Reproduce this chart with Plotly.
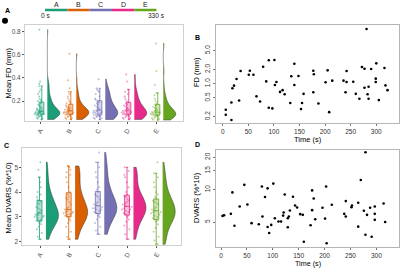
import plotly.graph_objects as go

W, H = 400, 268
def px(x): return x / W
def py(y): return 1 - y / H

groups = ["A", "B", "C", "D", "E"]
colors = ["#1B9E77", "#D95F02", "#7570B3", "#E7298A", "#66A61E"]
segment_secs = [66, 66, 66, 66, 66]

# Panel A: mean FD (mm) per time window
fd_A = [0.04,0.045,0.05,0.055,0.06,0.065,0.07,0.07,0.075,0.075,0.08,0.08,0.085,0.085,0.09,0.09,0.09,0.095,0.095,0.1,0.1,0.1,0.105,0.105,0.11,0.11,0.115,0.12,0.12,0.125,0.13,0.135,0.14,0.15,0.16,0.17,0.18,0.19,0.2,0.2,0.21,0.22,0.24,0.26,0.28,0.3,0.33,0.35,0.37,0.82]
fd_B = [0.04,0.045,0.05,0.055,0.06,0.065,0.07,0.075,0.08,0.08,0.085,0.09,0.09,0.095,0.1,0.1,0.1,0.105,0.11,0.11,0.115,0.12,0.12,0.125,0.13,0.135,0.14,0.145,0.15,0.16,0.17,0.18,0.19,0.2,0.22,0.24,0.26,0.28,0.31,0.38,0.61]
fd_C = [0.04,0.045,0.05,0.055,0.06,0.065,0.07,0.07,0.075,0.08,0.085,0.09,0.095,0.1,0.1,0.105,0.11,0.115,0.12,0.125,0.13,0.14,0.15,0.16,0.17,0.18,0.19,0.2,0.21,0.22,0.24,0.26,0.28,0.29,0.3,0.31,0.39]
fd_D = [0.04,0.045,0.05,0.055,0.06,0.065,0.07,0.075,0.08,0.085,0.09,0.09,0.095,0.1,0.1,0.105,0.11,0.115,0.12,0.125,0.13,0.14,0.15,0.16,0.17,0.18,0.19,0.2,0.22,0.24,0.26,0.28,0.3,0.37,0.43]
fd_E = [0.035,0.04,0.045,0.05,0.055,0.06,0.065,0.07,0.075,0.08,0.08,0.085,0.09,0.09,0.095,0.1,0.1,0.105,0.11,0.115,0.12,0.13,0.14,0.15,0.16,0.17,0.18,0.2,0.22,0.25,0.27,0.34,0.46,0.7]

# Panel C: mean DVARS (%*10) per time window
dv_A = [2.1,2.2,2.35,2.5,2.6,2.7,2.75,2.8,2.82,2.85,2.9,2.95,3.0,3.0,3.05,3.05,3.08,3.1,3.15,3.2,3.25,3.3,3.35,3.4,3.5,3.55,3.6,3.65,3.7,3.8,3.9,4.0,4.2,4.4,4.6,4.9,5.2]
dv_B = [2.1,2.2,2.4,2.6,2.75,2.85,2.9,2.95,3.0,3.05,3.1,3.1,3.15,3.15,3.2,3.2,3.25,3.3,3.35,3.4,3.5,3.6,3.7,3.75,3.8,3.9,4.0,4.2,4.4,4.6,4.7,4.8,4.9,5.0,5.05]
dv_C = [2.3,2.45,2.6,2.75,2.9,3.0,3.05,3.1,3.15,3.2,3.25,3.3,3.3,3.35,3.35,3.4,3.45,3.5,3.55,3.6,3.7,3.8,3.85,3.9,4.0,4.1,4.2,4.4,4.6,4.8,5.0,5.2,5.6]
dv_D = [2.1,2.3,2.5,2.65,2.8,2.9,3.0,3.05,3.1,3.15,3.2,3.25,3.3,3.3,3.35,3.4,3.45,3.5,3.55,3.6,3.65,3.7,3.8,3.85,3.9,4.0,4.2,4.4,4.6,4.7,4.85,5.0]
dv_E = [1.9,2.05,2.2,2.4,2.55,2.7,2.8,2.85,2.9,2.95,3.0,3.05,3.1,3.15,3.2,3.2,3.25,3.3,3.35,3.4,3.5,3.55,3.6,3.65,3.7,3.8,3.9,4.0,4.2,4.4,4.6,4.76,5.2]

# Panel B: FD over time
time_fd = [6,6,17,17,19,22,27,32,35,51,53,60,66,73,79,85,90,90,97,101,102,105,112,117,121,132,134,140,140,148,153,155,158,177,177,178,187,201,205,208,214,236,240,242,242,255,260,267,272,277,277,281,283,285,285,290,299,299,300,305,316,318,322]
fd_t = [0.28,0.22,0.17,0.40,0.80,0.91,1.26,0.44,1.86,1.55,1.88,1.55,0.54,0.42,2.29,1.12,3.13,0.31,0.30,3.17,0.94,1.09,0.67,0.73,0.60,0.39,1.44,2.65,0.94,1.46,0.29,0.39,0.61,0.66,1.88,1.58,0.38,1.07,1.92,0.25,1.16,1.16,0.66,1.09,1.86,1.10,0.61,0.48,2.26,2.08,0.82,14.4,0.60,0.86,0.48,2.05,1.28,1.09,2.70,0.45,2.15,0.92,0.73]

# Panel D: DVARS over time
time_dv = [3,6,19,22,26,36,45,51,59,73,79,80,85,90,90,93,97,101,104,111,116,120,121,123,129,129,131,133,139,143,147,153,158,160,173,176,176,179,182,196,201,203,204,214,238,241,241,252,253,265,265,270,276,279,279,282,288,291,297,297,297,314,317]
dv_t = [5.71,5.80,5.97,9.44,4.63,6.98,11.1,7.29,4.89,4.78,10.7,5.63,8.55,10.3,4.51,3.96,4.71,11.4,5.43,5.06,5.06,5.75,6.14,9.04,5.43,4.48,5.63,6.42,8.6,7.13,6.83,5.93,5.84,3.29,4.68,6.46,9.85,8.3,5.32,6.79,5.39,10.7,3.18,7.24,5.97,5.63,7.84,6.88,7.13,4.54,7.57,12.3,6.37,3.82,22.3,5.84,6.79,3.66,6.98,5.97,5.25,7.45,5.02]

FONT = "Liberation Sans, Arial, sans-serif"

def rgba(hexc, a):
    h = hexc.lstrip("#")
    r, g, b = int(h[0:2], 16), int(h[2:4], 16), int(h[4:6], 16)
    return f"rgba({r},{g},{b},{a})"

fig = go.Figure()

def raincloud(data, xa, ya, voff, boff, bw):
    for i, (vals, col) in enumerate(zip(data, colors)):
        fig.add_trace(go.Violin(
            y=vals, x0=i + voff, side="positive", width=0.86, spanmode="hard",
            scalemode="width", points=False, fillcolor=col, opacity=1,
            line=dict(color="#3a3a3a", width=0.5), box_visible=False,
            meanline_visible=False, xaxis=xa, yaxis=ya, showlegend=False,
            hoverinfo="skip"))
        fig.add_trace(go.Box(
            y=vals, x0=i - 0.02, width=0.36, boxpoints="all", jitter=1, pointpos=0,
            marker=dict(color=col, size=2, opacity=0.45),
            fillcolor="rgba(0,0,0,0)", line=dict(color="rgba(0,0,0,0)", width=0),
            xaxis=xa, yaxis=ya, showlegend=False, hoverinfo="skip"))
        fig.add_trace(go.Box(
            y=vals, x0=i + boff, width=bw, boxpoints="outliers",
            marker=dict(color="rgba(0,0,0,0)", size=1),
            fillcolor=rgba(col, 0.3), line=dict(color=col, width=0.8),
            xaxis=xa, yaxis=ya, showlegend=False, hoverinfo="skip"))

raincloud([fd_A, fd_B, fd_C, fd_D, fd_E], "x", "y", 0.24, 0.05, 0.14)
raincloud([dv_A, dv_B, dv_C, dv_D, dv_E], "x3", "y3", 0.2, -0.02, 0.17)

fig.add_trace(go.Scatter(x=time_fd, y=fd_t, mode="markers", xaxis="x2", yaxis="y2",
                         marker=dict(color="black", size=2.6), showlegend=False))
fig.add_trace(go.Scatter(x=time_dv, y=dv_t, mode="markers", xaxis="x4", yaxis="y4",
                         marker=dict(color="black", size=2.6), showlegend=False))

# header timeline bar
bases = [sum(segment_secs[:i]) for i in range(len(segment_secs))]
fig.add_trace(go.Bar(x=segment_secs, base=bases, y=[0] * 5, orientation="h", width=1,
                     marker=dict(color=colors, line=dict(width=0)),
                     xaxis="x5", yaxis="y5", showlegend=False, hoverinfo="skip"))

rain_ax = dict(showline=True, mirror=True, linecolor="#cfcfcf", linewidth=1,
               ticks="outside", ticklen=2, tickcolor="#555", showgrid=False,
               zeroline=False, automargin=False,
               tickfont=dict(family=FONT, size=6.5, color="#4d4d4d"))
base_ax = dict(showline=True, mirror=True, linecolor="#b5b5b5", linewidth=1,
               ticks="outside", ticklen=2, tickcolor="#777", showgrid=False,
               zeroline=False, automargin=False,
               tickfont=dict(family=FONT, size=6.5, color="#333"))

fig.update_layout(
    width=W, height=H, margin=dict(l=0, r=0, t=0, b=0),
    paper_bgcolor="white", plot_bgcolor="white",
    violinmode="overlay", boxmode="overlay", hovermode=False,
    xaxis=dict(domain=[px(25), px(182.7)], range=[-0.53, 4.91], tickvals=[0, 1, 2, 3, 4],
               ticktext=groups, tickangle=-60, anchor="y", **rain_ax),
    yaxis=dict(domain=[py(121.3), py(25.3)], range=[0.0235, 0.858],
               tickvals=[0.2, 0.4, 0.6, 0.8], ticktext=["0.2", "0.4", "0.6", "0.8"],
               anchor="x", **rain_ax),
    xaxis3=dict(domain=[px(22.3), px(181)], range=[-0.61, 4.83], tickvals=[0, 1, 2, 3, 4],
                ticktext=groups, tickangle=-60, anchor="y3", **rain_ax),
    yaxis3=dict(domain=[py(245), py(148.3)], range=[1.867, 5.766],
                tickvals=[2, 3, 4, 5], anchor="x3", **rain_ax),
    xaxis2=dict(domain=[px(216), px(399)], range=[-13.1, 344.4],
                tickvals=[0, 50, 100, 150, 200, 250, 300], tickangle=0, anchor="y2", **base_ax),
    yaxis2=dict(domain=[py(123), py(25)], type="log", range=[-0.832, 1.243],
                tickvals=[0.2, 0.5, 1, 2, 5], ticktext=["0.2", "0.5", "1.0", "2.0", "5.0"],
                tickangle=-90, anchor="x2", **base_ax),
    xaxis4=dict(domain=[px(216), px(399)], range=[-9.7, 343.8],
                tickvals=[0, 50, 100, 150, 200, 250, 300], tickangle=0, anchor="y4", **base_ax),
    yaxis4=dict(domain=[py(247.3), py(150)], type="log", range=[0.465, 1.369],
                tickvals=[5, 10, 15, 20], tickangle=-90, anchor="x4", **base_ax),
    xaxis5=dict(domain=[px(45), px(156.7)], range=[0, sum(segment_secs)], visible=False,
                anchor="y5"),
    yaxis5=dict(domain=[py(11.5), py(8.5)], range=[-0.5, 0.5], visible=False, anchor="x5"),
)

ann = []
def A(x, y, text, size=7, angle=0, bold=False, color="black", xa=None):
    ann.append(dict(x=x if xa else px(x), y=py(y), xref=xa if xa else "paper", yref="paper",
                    text=f"<b>{text}</b>" if bold else text, showarrow=False,
                    textangle=angle, xanchor="center", yanchor="middle", borderpad=0,
                    font=dict(family=FONT, size=size, color=color)))

A(7, 11, "A", 7, bold=True)
A(197, 37, "B", 7, bold=True)
A(6, 145, "C", 7, bold=True)
A(197, 144, "D", 7, bold=True)
A(8.5, 73, "Mean FD (mm)", 7.5, angle=-90)
A(7.5, 198, "Mean DVARS (%*10)", 7.5, angle=-90)
A(196, 72, "FD (mm)", 7.5, angle=-90)
A(196, 198, "DVARS (%*10)", 7.5, angle=-90)
A(307.5, 139, "Time (s)", 7.5)
A(307.5, 263, "Time (s)", 7.2)
for i, g in enumerate(groups):
    A(bases[i] + segment_secs[i] / 2, 4, g, 7, color="#222", xa="x5")
A(0, 15.5, "0 s", 6.5, color="#222", xa="x5")
A(sum(segment_secs), 15.5, "330 s", 6.5, color="#222", xa="x5")
fig.update_layout(annotations=ann)

fig.add_shape(type="circle", xref="paper", yref="paper",
              x0=px(2), x1=px(8), y0=py(23.7), y1=py(17.7),
              fillcolor="black", line=dict(width=0))

fig.write_html("out.html", config={"displayModeBar": False, "staticPlot": True},
               post_script="document.body.style.margin='0';document.body.style.padding='0';")
